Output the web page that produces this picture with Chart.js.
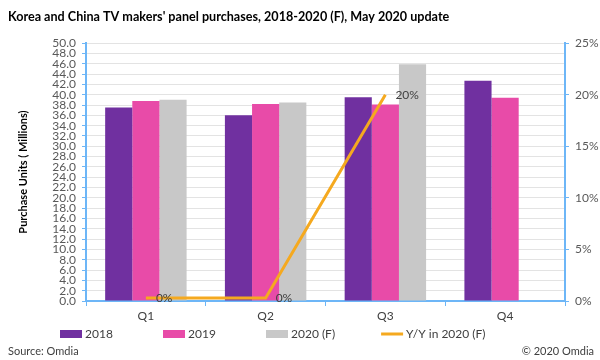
<!DOCTYPE html>
<html>
<head>
<meta charset="utf-8">
<script src="https://cdn.jsdelivr.net/npm/chart.js@4"></script>
<style>
  html, body { margin: 0; padding: 0; background: #fff; }
  #wrap { position: relative; width: 600px; height: 360px; overflow: hidden; }
  #c { position: absolute; left: 0; top: 0; }
  .foot { position: absolute; top: 344px; font-family: Lato, sans-serif; font-size: 11px; color: #404040; line-height: 14px; }
  #src { left: 8px; }
  #cpy { right: 6px; }
</style>
</head>
<body>
<div id="wrap">
  <canvas id="c" width="600" height="360"></canvas>
  <div class="foot" id="src">Source: Omdia</div>
  <div class="foot" id="cpy">© 2020 Omdia</div>
</div>
<script>
const categories = ['Q1', 'Q2', 'Q3', 'Q4'];
const units2018 = [37.5, 36.0, 39.5, 42.7];
const units2019 = [38.8, 38.2, 38.1, 39.4];
const units2020F = [39.0, 38.5, 45.9, null];
const yoy2020F = [0.3, 0.3, 20, null];
const seriesNames = ['2018', '2019', '2020 (F)', 'Y/Y in 2020 (F)'];
const titleText = "Korea and China TV makers' panel purchases, 2018-2020 (F), May 2020 update";
const yTitle = 'Purchase Units ( Millions)';

const FONT = 'Lato';
const AXIS_BLUE = '#6DB6F7';
const TICK_COLOR = '#595959';
const colors = ['#7030A0', '#E84BA8', '#C8C8C8', '#F5A91F'];

const yoyLabels = {
  id: 'yoyLabels',
  afterDatasetsDraw(chart) {
    const meta = chart.getDatasetMeta(3);
    const ctx = chart.ctx;
    ctx.save();
    ctx.font = '12px ' + FONT;
    ctx.fillStyle = '#404040';
    ctx.textAlign = 'left';
    ctx.textBaseline = 'middle';
    meta.data.forEach((pt, i) => {
      const v = yoy2020F[i];
      if (v === null || v === undefined) return;
      ctx.fillText(Math.round(v) + '%', pt.x + 10, pt.y);
    });
    ctx.restore();
  }
};

const bottomLegend = {
  id: 'bottomLegend',
  afterDraw(chart) {
    const ctx = chart.ctx;
    ctx.save();
    ctx.font = '12px ' + FONT;
    ctx.textAlign = 'left';
    ctx.textBaseline = 'middle';
    const y = 334;
    let x = 60;
    chart.data.datasets.forEach((ds, i) => {
      const col = ds.type === 'line' ? ds.borderColor : ds.backgroundColor;
      ctx.fillStyle = col;
      if (ds.type === 'line') {
        ctx.fillRect(x, y - 1.5, 22, 3);
      } else {
        ctx.fillRect(x, y - 4, 22, 8);
      }
      ctx.fillStyle = '#404040';
      ctx.fillText(ds.label, x + 25, y);
      const w = ctx.measureText(ds.label).width;
      x += Math.max(103, 22 + 4 + w + 45);
    });
    ctx.restore();
  }
};

new Chart(document.getElementById('c'), {
  type: 'bar',
  data: {
    labels: categories,
    datasets: [
      { label: seriesNames[0], data: units2018, backgroundColor: colors[0], yAxisID: 'y', order: 1 },
      { label: seriesNames[1], data: units2019, backgroundColor: colors[1], yAxisID: 'y', order: 1 },
      { label: seriesNames[2], data: units2020F, backgroundColor: colors[2], yAxisID: 'y', order: 1 },
      { label: seriesNames[3], type: 'line', data: yoy2020F, borderColor: colors[3], backgroundColor: colors[3],
        borderWidth: 3, pointRadius: 0, tension: 0, yAxisID: 'y1', order: 0 }
    ]
  },
  options: {
    responsive: false,
    animation: false,
    categoryPercentage: 0.68,
    barPercentage: 1.0,
    layout: { padding: { left: 8, right: 0, top: 4, bottom: 35 } },
    plugins: {
      legend: { display: false },
      tooltip: { enabled: false },
      title: {
        display: true,
        text: titleText,
        align: 'start',
        color: '#000',
        font: { family: FONT, size: 12.6, weight: 'bold' },
        padding: { top: 5, bottom: 19 }
      }
    },
    scales: {
      x: {
        grid: { display: true, drawOnChartArea: false, drawTicks: true, tickLength: 5, tickColor: AXIS_BLUE, offset: true },
        border: { display: true, color: AXIS_BLUE, width: 2 },
        ticks: { color: '#404040', font: { family: FONT, size: 12 }, padding: 3 },
        afterFit(s) { s.height = 24; }
      },
      y: {
        position: 'left',
        min: 0, max: 50,
        ticks: { stepSize: 2, autoSkip: false, color: TICK_COLOR, font: { family: FONT, size: 12 }, padding: 6,
          callback: v => Number(v).toFixed(1) },
        grid: { color: '#E3E3E3', lineWidth: 1, tickColor: AXIS_BLUE, tickLength: 4 },
        border: { display: true, color: AXIS_BLUE, width: 2 },
        title: { display: true, text: yTitle, color: '#000', font: { family: FONT, size: 11, weight: 'bold' }, padding: { top: 9, bottom: 0 } },
        afterFit(s) { s.width = 78; }
      },
      y1: {
        position: 'right',
        min: 0, max: 25,
        ticks: { stepSize: 5, color: TICK_COLOR, font: { family: FONT, size: 12 }, padding: 6, callback: v => v + '%' },
        grid: { drawOnChartArea: false, tickColor: AXIS_BLUE, tickLength: 4 },
        border: { display: true, color: AXIS_BLUE, width: 2 },
        afterFit(s) { s.width = 35; }
      }
    }
  },
  plugins: [yoyLabels, bottomLegend]
});
</script>
</body>
</html>
